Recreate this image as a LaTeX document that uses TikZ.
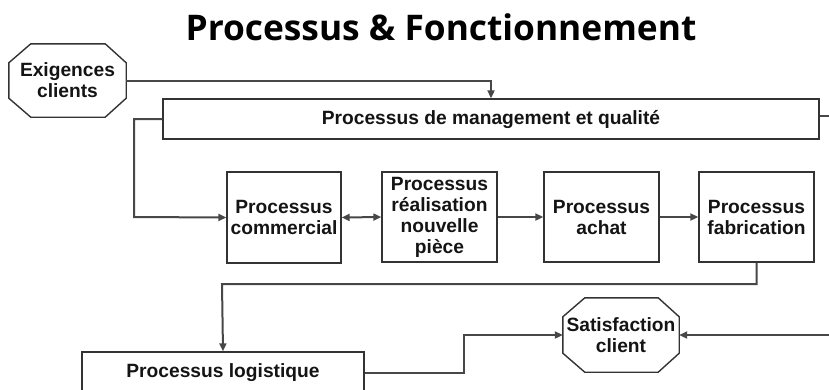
\documentclass[tikz,border=0pt]{standalone}
\usepackage{fontspec}
\setmainfont{Liberation Sans}
\newfontfamily\titlefont{Open Sans}
\usetikzlibrary{arrows.meta}

\definecolor{boxgray}{HTML}{333333}
\definecolor{linkgray}{HTML}{474747}

\begin{document}
\begin{tikzpicture}[x=1pt,y=-1pt,
  label text/.style={align=center, inner sep=0pt,
    font=\bfseries\fontsize{19.2}{21}\selectfont, text=black!92},
  box/.style={label text, draw=boxgray, line width=1.4pt, rectangle},
  octo/.style={label text, rectangle},
  octoline/.style={draw=boxgray, line width=1.4pt, line join=miter},
  link/.style={draw=linkgray, line width=2pt},
  arr/.style={link, -{Triangle[length=8pt,width=7pt]}},
  darr/.style={link, {Triangle[length=8pt,width=7pt]}-{Triangle[length=8pt,width=7pt]}},
]
\path[use as bounding box, clip] (0,0) rectangle (829,389);

% title
\node[font=\titlefont\bfseries\fontsize{35.3}{40}\selectfont, inner sep=0pt] (title) at (441,27) {Processus \& Fonctionnement};

% nodes
\node[octo, minimum width=117pt, minimum height=73pt] (exig) at (67.5,80.5) {Exigences\\clients};
\node[box, minimum width=656pt, minimum height=40pt] (mgmt) at (491,119) {Processus de management et qualité};

\node[box, minimum width=114pt, minimum height=91pt] (comm) at (284,217.5) {Processus\\commercial};
\node[box, minimum width=115pt, minimum height=90pt] (real) at (439.5,217) {Processus\\réalisation\\nouvelle\\pièce};
\node[box, minimum width=115pt, minimum height=90pt] (achat) at (601.5,217) {Processus\\achat};
\node[box, minimum width=115pt, minimum height=90pt] (fab) at (756.5,217) {Processus\\fabrication};

\node[box, minimum width=282pt, minimum height=42pt] (log) at (223,373) {Processus logistique};
\node[octo, minimum width=116pt, minimum height=74pt] (sat) at (621,335) {Satisfaction\\client};

% octagonal outlines of the two client nodes
\foreach \n in {exig,sat}
  \draw[octoline] ([xshift=22pt]\n.north west) -- ([xshift=-21pt]\n.north east)
    -- ([yshift=-19pt]\n.north east) -- ([yshift=19pt]\n.south east)
    -- ([xshift=-21pt]\n.south east) -- ([xshift=22pt]\n.south west)
    -- ([yshift=19pt]\n.south west) -- ([yshift=-19pt]\n.north west) -- cycle;

% open ends at the right border
\coordinate (mgmtout) at (829,116);
\coordinate (satin) at (829,335);

% connectors
\draw[arr] (exig.east) -| (mgmt.north);
\draw[arr] (mgmt.west) -| (134,217) -- (comm.west);
\draw[darr] (comm.east) -- (real.west);
\draw[arr] (real.east) -- (achat.west);
\draw[arr] (achat.east) -- (fab.west);
\draw[arr] (fab.south) |- (222,284) -- (log.north);
\draw[arr] (log.east) -| (464,335) -- (sat.west);
\draw[link] (mgmt.east |- mgmtout) -- (mgmtout);
\draw[arr] (satin) -- (sat.east);
\end{tikzpicture}
\end{document}
